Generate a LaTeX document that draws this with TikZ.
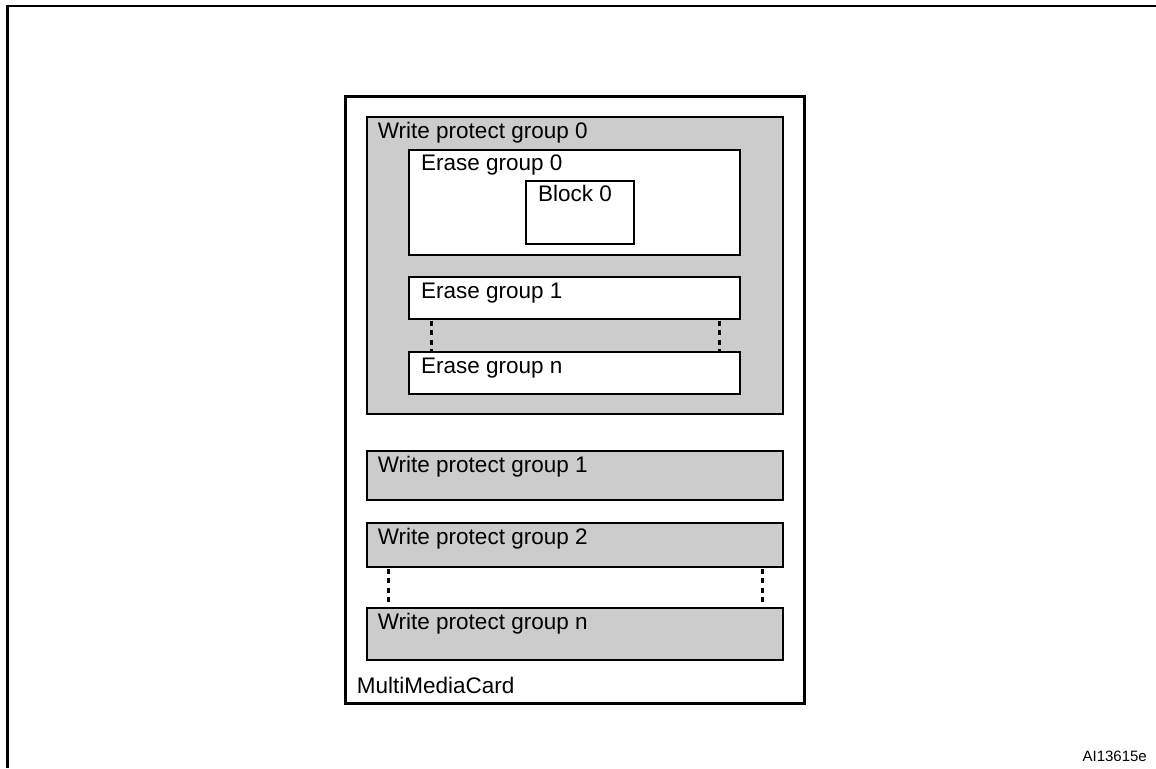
\documentclass[tikz,border=0pt]{standalone}
\usepackage{fontspec}
\setmainfont{Liberation Sans}
\usetikzlibrary{calc}
\definecolor{boxgray}{HTML}{CCCCCC}
\tikzset{
  box/.style={draw=black, line width=2.9pt, inner sep=0pt, outer sep=0pt, anchor=north west},
  graybox/.style={box, fill=boxgray},
  whitebox/.style={box, fill=white},
  lab/.style={anchor=base west, inner sep=0pt, font=\fontsize{22.5}{27}\selectfont},
  dots/.style={line width=3pt, dash pattern=on 5pt off 4.5pt}
}
\begin{document}
\begin{tikzpicture}[x=1pt,y=-1pt]
\useasboundingbox (0,0) rectangle (1156,768);
% outer frame (only top and left edges visible)
\coordinate (fbl) at (7.5,768);
\coordinate (ftl) at (7.5,6);
\coordinate (ftr) at (1156,6);
\draw[line width=2.8pt] (fbl) -- (ftl) -- (ftr);

% card
\node[whitebox, line width=3pt, minimum width=459pt, minimum height=607pt] (mmc) at (345,96) {};
% write protect group 0
\node[graybox, minimum width=416pt, minimum height=297pt] (wp0) at (367,117) {};
\node[whitebox, minimum width=331pt, minimum height=105pt] (e0) at (409,150) {};
\node[whitebox, minimum width=108pt, minimum height=63pt] (b0) at (526,181) {};
\node[whitebox, minimum width=331pt, minimum height=42pt] (e1) at (409,277) {};
\node[whitebox, minimum width=331pt, minimum height=42pt] (en) at (409,352) {};
% other write protect groups
\node[graybox, minimum width=416pt, minimum height=49pt] (wp1) at (367,451) {};
\node[graybox, minimum width=416pt, minimum height=44pt] (wp2) at (367,523) {};
\node[graybox, minimum width=416pt, minimum height=52pt] (wpn) at (367,608) {};

% labels
\node[lab] (twp0) at ($(wp0.north west)+(10.7,21)$) {Write protect group 0};
\node[lab] (te0) at ($(e0.north west)+(12,20.7)$) {Erase group 0};
\node[lab] (tb0) at ($(b0.north west)+(12,20.7)$) {Block 0};
\node[lab] (te1) at ($(e1.north west)+(12,21)$) {Erase group 1};
\node[lab] (ten) at ($(en.north west)+(12,21)$) {Erase group n};
\node[lab] (twp1) at ($(wp1.north west)+(10.7,21)$) {Write protect group 1};
\node[lab] (twp2) at ($(wp2.north west)+(10.7,21)$) {Write protect group 2};
\node[lab] (twpn) at ($(wpn.north west)+(10.7,21)$) {Write protect group n};
\node[lab] (tmmc) at ($(mmc.south west)+(11.7,-10)$) {MultiMediaCard};
\node[anchor=base east, inner sep=0pt, font=\fontsize{15}{18}\selectfont] (ref) at (1147,761.5) {AI13615e};

% dotted continuation lines
\draw[dots] ($(e1.south west)+(22,1.5)$) -- ($(en.north west)+(22,-1.5)$);
\draw[dots] ($(e1.south east)+(-21,1.5)$) -- ($(en.north east)+(-21,-1.5)$);
\draw[dots] ($(wp2.south west)+(21,1.5)$) -- ($(wpn.north west)+(21,-1.5)$);
\draw[dots] ($(wp2.south east)+(-21,1.5)$) -- ($(wpn.north east)+(-21,-1.5)$);
\end{tikzpicture}
\end{document}
